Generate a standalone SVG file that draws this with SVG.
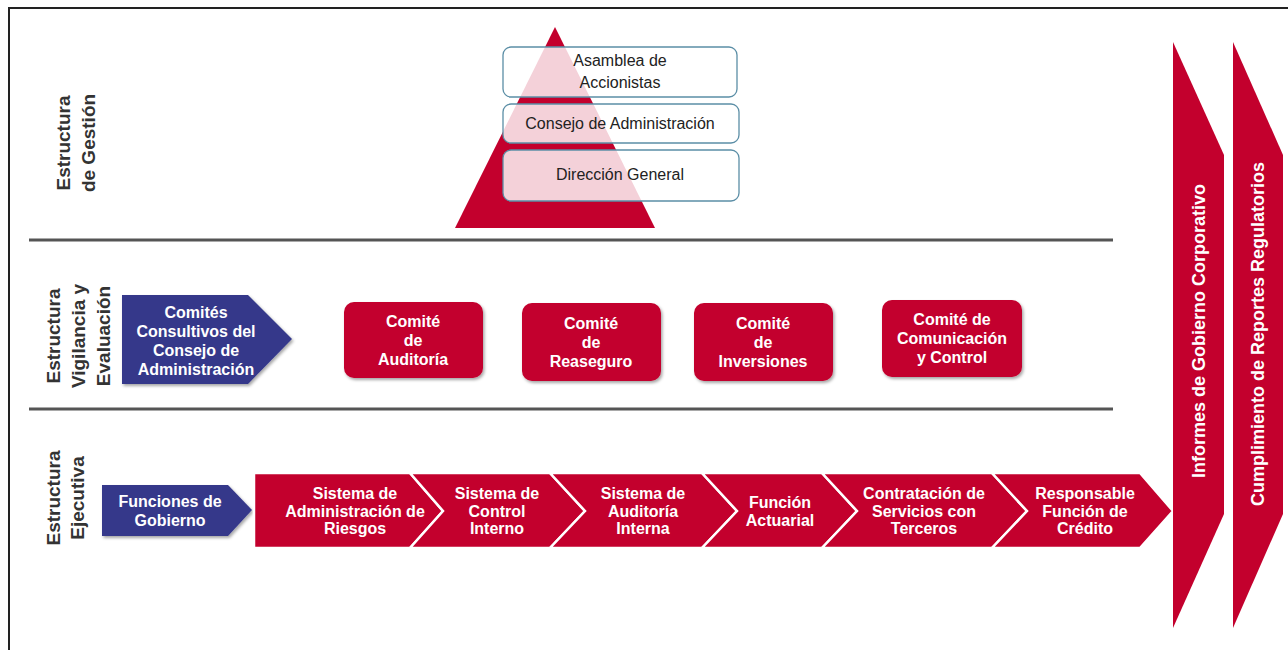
<svg xmlns="http://www.w3.org/2000/svg" width="1288" height="650" viewBox="0 0 1288 650">
<defs>
<style>
text{font-family:"Liberation Sans",Arial,sans-serif}
.red{fill:#c3002d}
.blue{fill:#35378a}
.w{fill:#fff;font-weight:bold;font-size:16px;text-anchor:middle}
.v{fill:#fff;font-weight:bold;font-size:18px;text-anchor:middle}
.lbl{fill:#333;font-weight:bold;font-size:19px;text-anchor:middle}
.pb{fill:#fff;fill-opacity:0.82;stroke:#5b8ea6;stroke-width:1.3}
.pt{fill:#222;font-size:16px;text-anchor:middle}
.chev{fill:#c3002d;stroke:#fff;stroke-width:2.5;stroke-linejoin:miter}
.sep{stroke:#555;stroke-width:3}
</style>
<filter id="sh" x="-10%" y="-10%" width="130%" height="130%">
<feDropShadow dx="1.5" dy="2" stdDeviation="1.5" flood-color="#000" flood-opacity="0.35"/>
</filter>
</defs>
<rect width="1288" height="650" fill="#fff"/>
<path d="M9 650 V8 H1288" fill="none" stroke="#222" stroke-width="2"/>
<g id="separators">
<line class="sep" x1="29" y1="240" x2="1113" y2="240"/>
<line class="sep" x1="29" y1="409" x2="1113" y2="409"/>
</g>
<g id="labels">
<text class="lbl" transform="translate(70,143) rotate(-90)">Estructura</text>
<text class="lbl" transform="translate(95,143) rotate(-90)">de Gestión</text>
<text class="lbl" transform="translate(60,336) rotate(-90)">Estructura</text>
<text class="lbl" transform="translate(85,336) rotate(-90)">Vigilancia y</text>
<text class="lbl" transform="translate(110,336) rotate(-90)">Evaluación</text>
<text class="lbl" transform="translate(60,498) rotate(-90)">Estructura</text>
<text class="lbl" transform="translate(84,498) rotate(-90)">Ejecutiva</text>
</g>
<g id="pyramid">
<polygon class="red" points="555,27 655,228 455,228"/>
</g>
<g id="asamblea">
<rect class="pb" x="503" y="47" width="234" height="50" rx="8"/>
<text class="pt" x="620" y="66">Asamblea de</text>
<text class="pt" x="620" y="88">Accionistas</text>
</g>
<g id="consejo">
<rect class="pb" x="503" y="104" width="236" height="39" rx="8"/>
<text class="pt" x="620" y="129">Consejo de Administración</text>
</g>
<g id="direccion">
<rect class="pb" x="503" y="150" width="236" height="51" rx="8"/>
<text class="pt" x="620" y="180">Dirección General</text>
</g>
<g id="comites-consultivos">
<polygon class="blue" filter="url(#sh)" points="122,295 248,295 292,339 248,384 122,384"/>
<text class="w" x="196" y="318">Comités</text>
<text class="w" x="196" y="337">Consultivos del</text>
<text class="w" x="196" y="356">Consejo de</text>
<text class="w" x="196" y="375">Administración</text>
</g>
<g id="comite-auditoria">
<rect class="red" filter="url(#sh)" x="344" y="302" width="139" height="76" rx="10"/>
<text class="w" x="413" y="327">Comité</text>
<text class="w" x="413" y="346">de</text>
<text class="w" x="413" y="365">Auditoría</text>
</g>
<g id="comite-reaseguro">
<rect class="red" filter="url(#sh)" x="522" y="303" width="139" height="78" rx="10"/>
<text class="w" x="591" y="329">Comité</text>
<text class="w" x="591" y="348">de</text>
<text class="w" x="591" y="367">Reaseguro</text>
</g>
<g id="comite-inversiones">
<rect class="red" filter="url(#sh)" x="694" y="303" width="139" height="78" rx="10"/>
<text class="w" x="763" y="329">Comité</text>
<text class="w" x="763" y="348">de</text>
<text class="w" x="763" y="367">Inversiones</text>
</g>
<g id="comite-comunicacion">
<rect class="red" filter="url(#sh)" x="882" y="300" width="140" height="77" rx="10"/>
<text class="w" x="952" y="325">Comité de</text>
<text class="w" x="952" y="344">Comunicación</text>
<text class="w" x="952" y="363">y Control</text>
</g>
<g id="funciones-gobierno">
<polygon class="blue" filter="url(#sh)" points="102,485 228,485 252,510 228,536 102,536"/>
<text class="w" x="170" y="507">Funciones de</text>
<text class="w" x="170" y="526">Gobierno</text>
</g>
<g id="sist-riesgos">
<polygon class="chev" points="254,473 410,473 443,511 410,548 254,548"/>
<text class="w" x="355" y="499">Sistema de</text>
<text class="w" x="355" y="517">Administración de</text>
<text class="w" x="355" y="534">Riesgos</text>
</g>
<g id="sist-control">
<polygon class="chev" points="410,473 550,473 585,511 550,548 410,548 443,511"/>
<text class="w" x="497" y="499">Sistema de</text>
<text class="w" x="497" y="517">Control</text>
<text class="w" x="497" y="534">Interno</text>
</g>
<g id="sist-auditoria">
<polygon class="chev" points="550,473 702,473 737,511 702,548 550,548 585,511"/>
<text class="w" x="643" y="499">Sistema de</text>
<text class="w" x="643" y="517">Auditoría</text>
<text class="w" x="643" y="534">Interna</text>
</g>
<g id="funcion-actuarial">
<polygon class="chev" points="702,473 822,473 857,511 822,548 702,548 737,511"/>
<text class="w" x="780" y="508">Función</text>
<text class="w" x="780" y="526">Actuarial</text>
</g>
<g id="contratacion">
<polygon class="chev" points="822,473 992,473 1027,511 992,548 822,548 857,511"/>
<text class="w" x="924" y="499">Contratación de</text>
<text class="w" x="924" y="517">Servicios con</text>
<text class="w" x="924" y="534">Terceros</text>
</g>
<g id="responsable-credito">
<polygon class="chev" points="992,473 1140,473 1173,511 1140,548 992,548 1027,511"/>
<text class="w" x="1085" y="499">Responsable</text>
<text class="w" x="1085" y="517">Función de</text>
<text class="w" x="1085" y="534">Crédito</text>
</g>
<g id="informes">
<polygon class="red" points="1173,42 1224,155 1224,514 1173,628"/>
<text class="v" transform="translate(1205,331) rotate(-90)">Informes de Gobierno Corporativo</text>
</g>
<g id="cumplimiento">
<polygon class="red" points="1233,42 1283,155 1283,514 1233,628"/>
<text class="v" transform="translate(1264,334) rotate(-90)">Cumplimiento de Reportes Regulatorios</text>
</g>
</svg>
